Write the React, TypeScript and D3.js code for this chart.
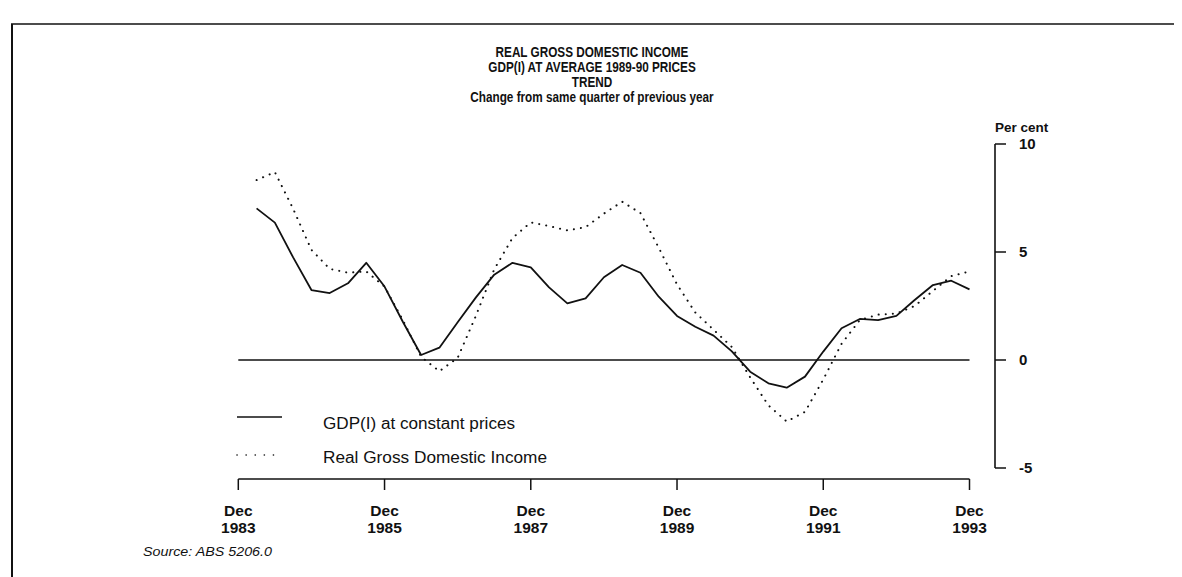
import { useEffect, useRef } from "react";
import * as d3 from "d3";

// quarter index 0 = Dec 1983 ... 40 = Dec 1993; both series start Mar 1984 (index 1)
const quarterIdx = d3.range(1, 41);

const gdpConstant = [
  7.02, 6.36, 4.75, 3.24, 3.1, 3.55, 4.5, 3.4, 1.77, 0.23,
  0.57, 1.75, 2.9, 3.95, 4.5, 4.29, 3.36, 2.62, 2.85, 3.83,
  4.4, 4.04, 2.93, 2.04, 1.54, 1.13, 0.4, -0.54, -1.08, -1.28,
  -0.77, 0.39, 1.47, 1.9, 1.85, 2.04, 2.78, 3.47, 3.67, 3.27,
];

const realGDI = [
  8.33, 8.7, 7.0, 5.1, 4.22, 4.04, 4.1, 3.4, 1.85, 0.15,
  -0.52, 0.1, 2.05, 4.2, 5.65, 6.37, 6.2, 6.0, 6.15, 6.78,
  7.33, 6.8, 5.2, 3.5, 2.2, 1.4, 0.6, -0.8, -2.1, -2.85,
  -2.4, -0.9, 0.75, 1.85, 2.1, 2.15, 2.5, 3.2, 3.88, 4.1,
];

const xTickIdx = [0, 8, 16, 24, 32, 40];
const xTickYears = ["1983", "1985", "1987", "1989", "1991", "1993"];
const yTicks = [10, 5, 0, -5];

const titleLines = [
  "REAL GROSS DOMESTIC INCOME",
  "GDP(I) AT AVERAGE 1989-90 PRICES",
  "TREND",
  "Change from same quarter of previous year",
];

const W = 1166;
const H = 569;

export default function App() {
  const ref = useRef<HTMLDivElement | null>(null);

  useEffect(() => {
    if (!ref.current) return;
    d3.select(ref.current).selectAll("svg").remove();

    // page has 8px margin, so svg coords = page coords - 8
    const svg = d3
      .select(ref.current)
      .append("svg")
      .attr("width", W)
      .attr("height", H)
      .style("display", "block")
      .append("g")
      .attr("transform", "translate(-8,-8)");

    const sans = "'Liberation Sans', Arial, Helvetica, sans-serif";

    const x = d3.scaleLinear([0, 40], [238.3, 969.5]);
    const y = d3.scaleLinear([-5, 10], [468, 144]);

    // frame
    svg.append("line")
      .attr("x1", 11).attr("x2", 1182).attr("y1", 24).attr("y2", 24)
      .attr("stroke", "#111").attr("stroke-width", 1.6);
    svg.append("line")
      .attr("x1", 12).attr("x2", 12).attr("y1", 24).attr("y2", 577)
      .attr("stroke", "#111").attr("stroke-width", 2);

    // title (condensed look via horizontal squeeze)
    svg.append("g")
      .attr("transform", "translate(592,0) scale(0.84,1)")
      .selectAll("text")
      .data(titleLines)
      .join("text")
      .attr("x", 0)
      .attr("y", (_, i) => 57 + i * 15)
      .attr("text-anchor", "middle")
      .attr("font-family", sans)
      .attr("font-weight", "bold")
      .attr("font-size", "14px")
      .attr("fill", "#111")
      .text((d) => d);

    // zero line
    svg.append("line")
      .attr("x1", x(0)).attr("x2", x(40))
      .attr("y1", y(0)).attr("y2", y(0))
      .attr("stroke", "#111").attr("stroke-width", 1.3);

    // y axis on right
    const yAxis = svg.append("g").attr("transform", "translate(995,0)");
    yAxis.append("line")
      .attr("y1", y(10)).attr("y2", y(-5))
      .attr("stroke", "#111").attr("stroke-width", 1.6);
    yAxis.selectAll("line.tick")
      .data(yTicks)
      .join("line")
      .attr("class", "tick")
      .attr("x1", 0).attr("x2", 11)
      .attr("y1", (d) => y(d)).attr("y2", (d) => y(d))
      .attr("stroke", "#111").attr("stroke-width", 1.5);
    yAxis.selectAll("text.lbl")
      .data(yTicks)
      .join("text")
      .attr("class", "lbl")
      .attr("x", 24)
      .attr("y", (d) => y(d))
      .attr("dy", "0.36em")
      .attr("font-family", sans)
      .attr("font-weight", "bold")
      .attr("font-size", "15px")
      .attr("fill", "#111")
      .text((d) => String(d));
    yAxis.append("text")
      .attr("x", 0)
      .attr("y", 132)
      .attr("font-family", sans)
      .attr("font-size", "13.5px")
      .attr("font-weight", "bold")
      .attr("fill", "#111")
      .text("Per cent");

    // x axis
    const xAxis = svg.append("g");
    xAxis.append("line")
      .attr("x1", x(0)).attr("x2", x(40))
      .attr("y1", 479).attr("y2", 479)
      .attr("stroke", "#111").attr("stroke-width", 1.6);
    xAxis.selectAll("line.tick")
      .data(xTickIdx)
      .join("line")
      .attr("class", "tick")
      .attr("x1", (d) => x(d)).attr("x2", (d) => x(d))
      .attr("y1", 479).attr("y2", 490)
      .attr("stroke", "#111").attr("stroke-width", 1.5);
    const xl = xAxis.selectAll("g.lbl")
      .data(xTickIdx)
      .join("g")
      .attr("class", "lbl")
      .attr("transform", (d) => `translate(${x(d)},0)`);
    xl.append("text")
      .attr("y", 516)
      .attr("text-anchor", "middle")
      .attr("font-family", sans)
      .attr("font-weight", "bold")
      .attr("font-size", "15.5px")
      .attr("fill", "#111")
      .text("Dec");
    xl.append("text")
      .attr("y", 533)
      .attr("text-anchor", "middle")
      .attr("font-family", sans)
      .attr("font-weight", "bold")
      .attr("font-size", "15.5px")
      .attr("fill", "#111")
      .text((_, i) => xTickYears[i]);

    // series
    const line = d3
      .line<number>()
      .x((_, i) => x(quarterIdx[i]))
      .y((d) => y(d));

    svg.append("path")
      .attr("d", line(realGDI))
      .attr("fill", "none")
      .attr("stroke", "#111")
      .attr("stroke-width", 2)
      .attr("stroke-linecap", "round")
      .attr("stroke-dasharray", "0.1 7");

    svg.append("path")
      .attr("d", line(gdpConstant))
      .attr("fill", "none")
      .attr("stroke", "#111")
      .attr("stroke-width", 1.8)
      .attr("stroke-linejoin", "round");

    // legend
    const leg = svg.append("g");
    leg.append("line")
      .attr("x1", 237).attr("x2", 282).attr("y1", 417).attr("y2", 417)
      .attr("stroke", "#111").attr("stroke-width", 1.6);
    leg.append("line")
      .attr("x1", 237).attr("x2", 282).attr("y1", 455).attr("y2", 455)
      .attr("stroke", "#111").attr("stroke-width", 1.6)
      .attr("stroke-linecap", "round")
      .attr("stroke-dasharray", "0.1 9");
    leg.append("text")
      .attr("x", 323).attr("y", 429)
      .attr("font-family", sans)
      .attr("font-size", "16px")
      .attr("textLength", 192)
      .attr("lengthAdjust", "spacingAndGlyphs")
      .attr("fill", "#111")
      .text("GDP(I) at constant prices");
    leg.append("text")
      .attr("x", 323).attr("y", 463)
      .attr("font-family", sans)
      .attr("font-size", "16px")
      .attr("textLength", 224)
      .attr("lengthAdjust", "spacingAndGlyphs")
      .attr("fill", "#111")
      .text("Real Gross Domestic Income");

    // source
    svg.append("text")
      .attr("x", 143).attr("y", 556)
      .attr("font-family", sans)
      .attr("font-style", "italic")
      .attr("font-size", "13px")
      .attr("textLength", 129)
      .attr("lengthAdjust", "spacingAndGlyphs")
      .attr("fill", "#111")
      .text("Source: ABS 5206.0");
  }, []);

  return <div ref={ref}></div>;
}
